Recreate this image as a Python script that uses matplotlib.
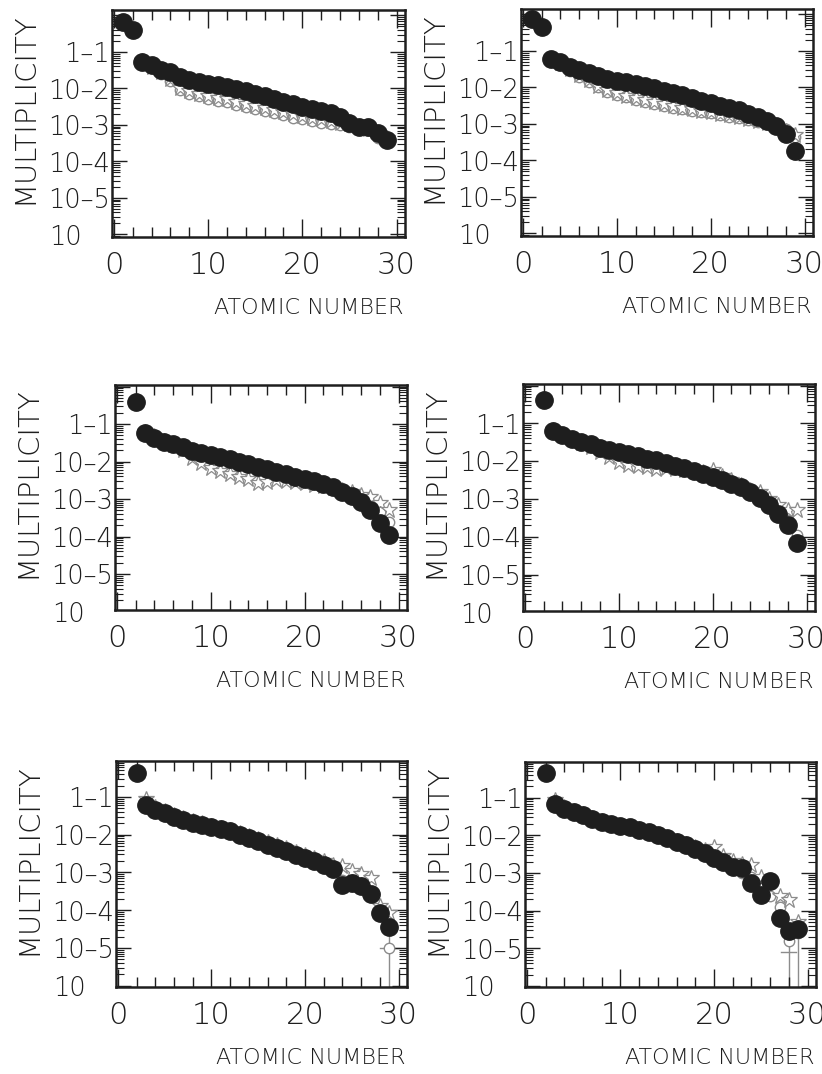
import matplotlib.pyplot as plt
import numpy as np
from matplotlib.ticker import LogLocator, MultipleLocator, NullFormatter

plt.rcParams["font.family"] = ["DejaVu Sans"]
plt.rcParams["font.weight"] = "light"

# atomic numbers
z_all = np.arange(1, 30)   # 1..29
z_from2 = np.arange(2, 30)  # 2..29
z_open = np.arange(3, 30)   # 3..29

# log10(multiplicity)
# top left
tl_data = [-0.17, -0.40, -1.27, -1.36, -1.49, -1.54, -1.68, -1.77, -1.83, -1.88,
           -1.90, -1.97, -2.02, -2.07, -2.15, -2.22, -2.30, -2.36, -2.43, -2.50,
           -2.56, -2.62, -2.68, -2.77, -2.95, -3.05, -3.05, -3.22, -3.41]
tl_circ = [-1.30, -1.45, -1.60, -1.80, -2.05, -2.15, -2.22, -2.28, -2.33, -2.38,
           -2.45, -2.52, -2.57, -2.63, -2.68, -2.74, -2.80, -2.85, -2.90, -2.95,
           -2.98, -3.00, -3.05, -3.10, -3.15, -3.36, -3.45]
tl_star = [-1.25, -1.40, -1.55, -1.75, -1.98, -2.08, -2.15, -2.20, -2.25, -2.30,
           -2.36, -2.42, -2.48, -2.54, -2.60, -2.65, -2.70, -2.75, -2.80, -2.85,
           -2.90, -2.95, -2.98, -3.05, -3.10, -3.25, -3.35]
# top right
tr_data = [-0.12, -0.34, -1.22, -1.30, -1.44, -1.52, -1.60, -1.69, -1.77, -1.82,
           -1.86, -1.90, -1.96, -2.02, -2.09, -2.16, -2.22, -2.29, -2.36, -2.43,
           -2.50, -2.56, -2.63, -2.72, -2.82, -2.91, -3.05, -3.27, -3.73]
tr_circ = [-1.25, -1.35, -1.55, -1.70, -1.85, -2.00, -2.12, -2.20, -2.27, -2.33,
           -2.40, -2.45, -2.50, -2.55, -2.60, -2.64, -2.67, -2.71, -2.75, -2.80,
           -2.85, -2.90, -2.95, -3.00, -3.05, -3.15, -3.35]
tr_star = [-1.22, -1.33, -1.50, -1.65, -1.80, -1.95, -2.08, -2.16, -2.23, -2.29,
           -2.35, -2.40, -2.45, -2.50, -2.55, -2.60, -2.64, -2.68, -2.72, -2.76,
           -2.80, -2.86, -2.92, -2.98, -3.05, -3.20, -3.30]
# middle left
ml_data = [-0.41, -1.24, -1.37, -1.47, -1.53, -1.62, -1.71, -1.78, -1.83, -1.87,
           -1.93, -2.00, -2.07, -2.14, -2.20, -2.27, -2.33, -2.40, -2.46, -2.53,
           -2.60, -2.69, -2.80, -2.93, -3.07, -3.29, -3.65, -3.96]
ml_circ = [-1.26, -1.40, -1.50, -1.57, -1.66, -1.76, -1.84, -1.90, -1.95, -2.00,
           -2.06, -2.12, -2.18, -2.24, -2.30, -2.36, -2.42, -2.48, -2.54, -2.60,
           -2.67, -2.76, -2.86, -2.98, -3.12, -3.35, -3.60]
ml_star = [-1.20, -1.33, -1.45, -1.55, -1.70, -1.90, -2.05, -2.17, -2.25, -2.32,
           -2.40, -2.47, -2.57, -2.55, -2.50, -2.52, -2.55, -2.58, -2.62, -2.66,
           -2.70, -2.76, -2.82, -2.88, -2.95, -3.10, -3.29]
# middle right
mr_data = [-0.37, -1.21, -1.31, -1.42, -1.49, -1.55, -1.64, -1.70, -1.76, -1.80,
           -1.86, -1.93, -1.98, -2.06, -2.13, -2.19, -2.26, -2.33, -2.41, -2.50,
           -2.59, -2.69, -2.82, -2.97, -3.15, -3.39, -3.68, -4.17]
mr_circ = [-1.24, -1.35, -1.46, -1.54, -1.62, -1.70, -1.77, -1.83, -1.88, -1.93,
           -1.99, -2.05, -2.11, -2.17, -2.23, -2.29, -2.36, -2.44, -2.52, -2.61,
           -2.71, -2.83, -2.96, -3.10, -3.30, -3.55, -3.95]
mr_star = [-1.18, -1.30, -1.42, -1.52, -1.62, -1.75, -1.90, -2.02, -2.10, -2.12,
           -2.15, -2.20, -2.18, -2.20, -2.22, -2.25, -2.28, -2.23, -2.40, -2.50,
           -2.62, -2.76, -2.81, -3.00, -3.15, -3.28, -3.29]
# bottom left
bl_data = [-0.37, -1.21, -1.34, -1.43, -1.52, -1.61, -1.69, -1.75, -1.80, -1.85,
           -1.91, -2.00, -2.09, -2.18, -2.26, -2.35, -2.44, -2.53, -2.61, -2.70,
           -2.79, -2.92, -3.32, -3.27, -3.36, -3.58, -4.06, -4.45]
bl_circ = [-1.24, -1.36, -1.45, -1.54, -1.63, -1.71, -1.77, -1.82, -1.87, -1.93,
           -2.02, -2.11, -2.20, -2.28, -2.37, -2.46, -2.55, -2.63, -2.72, -2.81,
           -2.94, -3.20, -3.30, -3.40, -3.60, -4.00, -5.00]
bl_star = [-1.05, -1.28, -1.38, -1.47, -1.55, -1.64, -1.70, -1.76, -1.82, -1.88,
           -1.95, -2.03, -2.12, -2.20, -2.28, -2.36, -2.45, -2.53, -2.62, -2.70,
           -2.80, -2.84, -2.95, -3.05, -3.15, -3.89, -4.06]
# bottom right
br_data = [-0.33, -1.17, -1.30, -1.38, -1.47, -1.56, -1.65, -1.71, -1.76, -1.79,
           -1.85, -1.91, -2.00, -2.08, -2.17, -2.26, -2.35, -2.48, -2.61, -2.72,
           -2.83, -2.87, -3.27, -3.58, -3.22, -4.19, -4.54, -4.50]
br_circ = [-1.20, -1.33, -1.41, -1.50, -1.59, -1.67, -1.73, -1.78, -1.82, -1.88,
           -1.94, -2.03, -2.11, -2.20, -2.29, -2.38, -2.50, -2.62, -2.74, -2.85,
           -3.00, -3.10, -3.40, -3.60, -3.90, -4.80, -4.60]
br_star = [-1.05, -1.25, -1.35, -1.44, -1.53, -1.62, -1.69, -1.74, -1.78, -1.84,
           -1.90, -1.98, -2.06, -2.15, -2.23, -2.32, -2.40, -2.30, -2.55, -2.68,
           -2.75, -2.78, -3.10, -3.20, -3.62, -3.71, -4.30]

# error bars on open points (z, upper log, lower log, x half-width)
bl_err = [(29, -4.5, -7.0, 1.0)]
br_err = [(28, -4.6, -7.0, 0.8), (29, -4.4, -7.0, 0.0)]

panels = [
    # box in px (left, top, right, bottom), ylim in log10, x of data, data, circ, star, err
    ((112, 10, 405, 237), (-6.07, 0.15), z_all, tl_data, tl_circ, tl_star, []),
    ((521, 9, 813, 236), (-6.07, 0.15), z_all, tr_data, tr_circ, tr_star, []),
    ((115, 385, 407, 610), (-5.96, 0.04), z_from2, ml_data, ml_circ, ml_star, []),
    ((523, 384, 815, 611), (-5.96, 0.04), z_from2, mr_data, mr_circ, mr_star, []),
    ((116, 761, 407, 987), (-6.03, -0.05), z_from2, bl_data, bl_circ, bl_star, bl_err),
    ((525, 762, 816, 987), (-6.03, -0.05), z_from2, br_data, br_circ, br_star, br_err),
]

W, H = 822, 1074
ink = "#1e1e1e"
grey = "#8c8c8c"
px = 0.72  # points per pixel at dpi 100

fig = plt.figure(figsize=(W / 100, H / 100), dpi=100)

for (l, t, r, b), (ylo, yhi), zz, dat, circ, star, err in panels:
    ax = fig.add_axes([l / W, 1 - b / H, (r - l) / W, (b - t) / H])
    ax.set_yscale("log")

    for zi, up, lo, xw in err:
        ax.plot([zi, zi], [10 ** up, 10 ** lo], color=grey, lw=1.0, zorder=1)
        if xw:
            ax.plot([zi - xw, zi + xw], [10 ** (up - 0.5), 10 ** (up - 0.5)],
                    color=grey, lw=1.0, zorder=1)

    ax.plot(z_open, 10 ** np.array(circ), "o", ms=7.5, mfc="white", mec=grey,
            mew=1.0, zorder=2)
    ax.plot(z_open, 10 ** np.array(star), "*", ms=12, mfc="white", mec=grey,
            mew=0.9, zorder=2)
    ax.plot(zz, 10 ** np.array(dat), "o", ms=12.5, color=ink, mec=ink, zorder=3)

    ax.set_xlim(-0.2, 30.9)
    ax.set_ylim(10 ** ylo, 10 ** yhi)

    ax.xaxis.set_major_locator(MultipleLocator(10))
    ax.xaxis.set_minor_locator(MultipleLocator(2))
    ax.yaxis.set_major_locator(LogLocator(base=10, numticks=20))
    ax.yaxis.set_minor_locator(LogLocator(base=10, subs=np.arange(2, 10), numticks=20))
    ax.yaxis.set_major_formatter(NullFormatter())
    ax.yaxis.set_minor_formatter(NullFormatter())

    ax.tick_params(which="both", direction="in", top=True, right=True,
                   color=ink, width=1.0)
    ax.tick_params(axis="x", which="major", length=13, labelsize=22, pad=10,
                   labelcolor=ink)
    ax.tick_params(axis="x", which="minor", length=7)
    ax.tick_params(axis="y", which="major", length=11)
    ax.tick_params(axis="y", which="minor", length=5.5, width=0.8)
    for lab in ax.get_xticklabels():
        lab.set_fontweight("light")
    for s in ax.spines.values():
        s.set_linewidth(1.8)
        s.set_color(ink)

    # y labels drawn the way the scan shows them
    for k in range(1, 6):
        base = "1" if k == 1 else "10"
        ax.annotate(f"{base}\u2013{k}", xy=(0, 10.0 ** -k),
                    xycoords=("axes fraction", "data"), xytext=(-1.5, -2),
                    textcoords="offset points", ha="right", va="center",
                    fontsize=18.5, color=ink, annotation_clip=False)
    ax.annotate("10", xy=(0, 10.0 ** -6), xycoords=("axes fraction", "data"),
                xytext=(-22, -2), textcoords="offset points", ha="right",
                va="center", fontsize=18.5, color=ink, annotation_clip=False)

    ax.annotate("MULTIPLICITY", xy=(0, 0.5), xycoords="axes fraction",
                xytext=(-88 * px, 15 * px), textcoords="offset points",
                ha="center", va="center", rotation=90, fontsize=21, color=ink)
    ax.annotate("ATOMIC NUMBER", xy=(1, 0), xycoords="axes fraction",
                xytext=(-2 * px, -71 * px), textcoords="offset points",
                ha="right", va="center", fontsize=16, color=ink)

fig.savefig("out.png", dpi=100, facecolor="white")
